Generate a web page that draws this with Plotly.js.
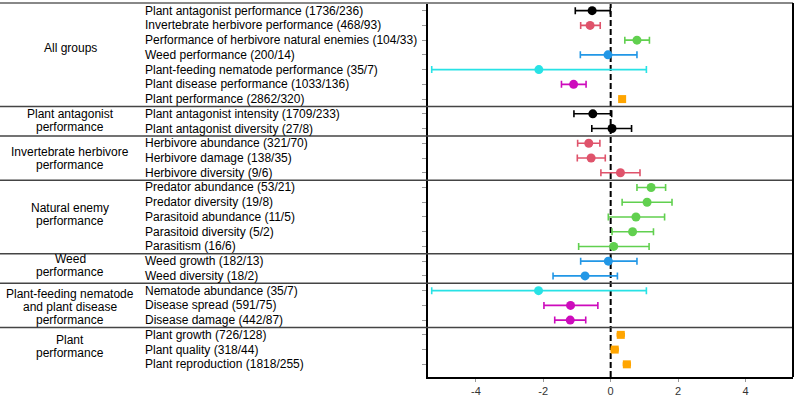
<!DOCTYPE html>
<html>
<head>
<meta charset="utf-8">
<script src="https://cdn.plot.ly/plotly-3.0.1.min.js"></script>
<style>html,body{margin:0;padding:0;background:#fff;}#chart{width:798px;height:396px;}</style>
</head>
<body>
<div id="chart"></div>
<script>
// Row labels (top to bottom)
const rowLabels = [
  "Plant antagonist performance (1736/236)",
  "Invertebrate herbivore performance (468/93)",
  "Performance of herbivore natural enemies (104/33)",
  "Weed performance (200/14)",
  "Plant-feeding nematode performance (35/7)",
  "Plant disease performance (1033/136)",
  "Plant performance (2862/320)",
  "Plant antagonist intensity (1709/233)",
  "Plant antagonist diversity (27/8)",
  "Herbivore abundance (321/70)",
  "Herbivore damage (138/35)",
  "Herbivore diversity (9/6)",
  "Predator abundance (53/21)",
  "Predator diversity (19/8)",
  "Parasitoid abundance (11/5)",
  "Parasitoid diversity (5/2)",
  "Parasitism (16/6)",
  "Weed growth (182/13)",
  "Weed diversity (18/2)",
  "Nematode abundance (35/7)",
  "Disease spread (591/75)",
  "Disease damage (442/87)",
  "Plant growth (726/128)",
  "Plant quality (318/44)",
  "Plant reproduction (1818/255)"
];
// Effect sizes and confidence limits
const estimate = [-0.55,-0.61,0.78,-0.08,-2.13,-1.10,0.34,-0.53,0.04,-0.65,-0.58,0.29,1.20,1.08,0.75,0.65,0.09,-0.07,-0.76,-2.14,-1.19,-1.20,0.30,0.12,0.48];
const lower    = [-1.05,-0.89,0.42,-0.90,-5.31,-1.46,0.26,-1.09,-0.56,-0.98,-0.99,-0.29,0.78,0.34,-0.07,0.04,-0.95,-0.89,-1.71,-5.31,-1.98,-1.66,0.20,0.02,0.38];
const upper    = [-0.01,-0.31,1.15,0.78,1.06,-0.73,0.42,0.03,0.62,-0.32,-0.16,0.87,1.63,1.82,1.60,1.27,1.14,0.78,0.20,1.06,-0.38,-0.74,0.40,0.22,0.58];
// Organism group of each row (colour series)
const seriesOf = ["antagonist","herbivore","enemy","weed","nematode","disease","plant",
  "antagonist","antagonist","herbivore","herbivore","herbivore",
  "enemy","enemy","enemy","enemy","enemy","weed","weed",
  "nematode","disease","disease","plant","plant","plant"];
const seriesNames = ["antagonist","herbivore","enemy","weed","nematode","disease","plant"];
const seriesColors = {antagonist:"#000000",herbivore:"#DF536B",enemy:"#61D04F",weed:"#2297E6",nematode:"#28E2E5",disease:"#CD0BBC",plant:"#FFA500"};
// Group labels (left column): lines and vertical position (row units)
const groupLabels = [
  {lines:["All groups"], pos:3.55},
  {lines:["Plant antagonist","performance"], pos:8.45},
  {lines:["Invertebrate herbivore","performance"], pos:11.0},
  {lines:["Natural enemy","performance"], pos:14.85},
  {lines:["Weed","performance"], pos:18.32},
  {lines:["Plant-feeding nematode","and plant disease","performance"], pos:21.09},
  {lines:["Plant","performance"], pos:23.81}
];
const separators = [7.5, 9.5, 12.5, 17.5, 19.5, 22.5];

const rowPos = rowLabels.map((_, i) => i + 1);
const traces = seriesNames.map(s => {
  const idx = rowPos.map((p, i) => i).filter(i => seriesOf[i] === s);
  const isPlant = s === "plant";
  return {
    type: "scatter", mode: "markers",
    x: idx.map(i => estimate[i]),
    y: idx.map(i => rowPos[i]),
    marker: {color: seriesColors[s], size: isPlant ? 8 : 9, symbol: isPlant ? "square" : "circle"},
    error_x: {type: "data", symmetric: false,
      array: idx.map(i => upper[i] - estimate[i]),
      arrayminus: idx.map(i => estimate[i] - lower[i]),
      color: seriesColors[s], thickness: 1.6, width: isPlant ? 2 : 3.5},
    showlegend: false, hoverinfo: "skip", cliponaxis: false
  };
});

const L = 428, R = 5, W = 798;
const plotW = W - L - R;
const leftPaper = -L / plotW;
const px = p => (p - L) / plotW;

const annotations = [];
rowLabels.forEach((t, i) => annotations.push({
  text: t, xref: "paper", yref: "y", x: px(143), y: rowPos[i],
  xanchor: "left", yanchor: "middle", showarrow: false,
  font: {family: "Liberation Sans, Arial, sans-serif", size: 12, color: "#000"}
}));
const lineStep = 0.88;
groupLabels.forEach(g => {
  const n = g.lines.length;
  g.lines.forEach((t, j) => annotations.push({
    text: t, xref: "paper", yref: "y", x: px(70), y: g.pos + (j - (n - 1) / 2) * lineStep,
    xanchor: "center", yanchor: "middle", showarrow: false,
    font: {family: "Liberation Sans, Arial, sans-serif", size: 12, color: "#000"}
  }));
});

const shapes = [];
separators.forEach(s => shapes.push({type: "line", xref: "paper", yref: "y", x0: leftPaper, x1: 1, y0: s, y1: s,
  line: {color: "#444", width: 1.5}}));
// top border (full width) and right border
shapes.push({type: "line", xref: "paper", yref: "paper", x0: leftPaper, x1: 1, y0: 1, y1: 1, line: {color: "#888", width: 2}});
shapes.push({type: "line", xref: "paper", yref: "paper", x0: 1, x1: 1, y0: 0, y1: 1, line: {color: "#000", width: 2}});
// dashed reference line at zero
shapes.push({type: "line", xref: "x", yref: "paper", x0: 0, x1: 0, y0: 0, y1: 1, layer: "below",
  line: {color: "#000", width: 2, dash: "6px,3px"}});

const layout = {
  width: 798, height: 396,
  margin: {l: L, r: R, t: 3, b: 19, pad: 0},
  paper_bgcolor: "#fff", plot_bgcolor: "#fff",
  xaxis: {range: [-5.42, 5.41], tickvals: [-4, -2, 0, 2, 4], ticktext: ["-4","-2","0","2","4"],
    ticks: "outside", ticklen: 3, tickcolor: "#999", tickwidth: 1,
    showgrid: false, zeroline: false, showline: true, linecolor: "#000", linewidth: 2,
    tickfont: {family: "Liberation Sans, Arial, sans-serif", size: 11, color: "#333"}},
  yaxis: {range: [25.86, 0.48], tickvals: rowPos, ticktext: rowPos.map(() => ""),
    ticks: "outside", ticklen: 4, tickcolor: "#999", tickwidth: 1,
    showgrid: false, zeroline: false, showline: true, linecolor: "#000", linewidth: 2},
  annotations: annotations, shapes: shapes, showlegend: false
};
Plotly.newPlot("chart", traces, layout, {staticPlot: true, displayModeBar: false});
</script>
</body>
</html>
